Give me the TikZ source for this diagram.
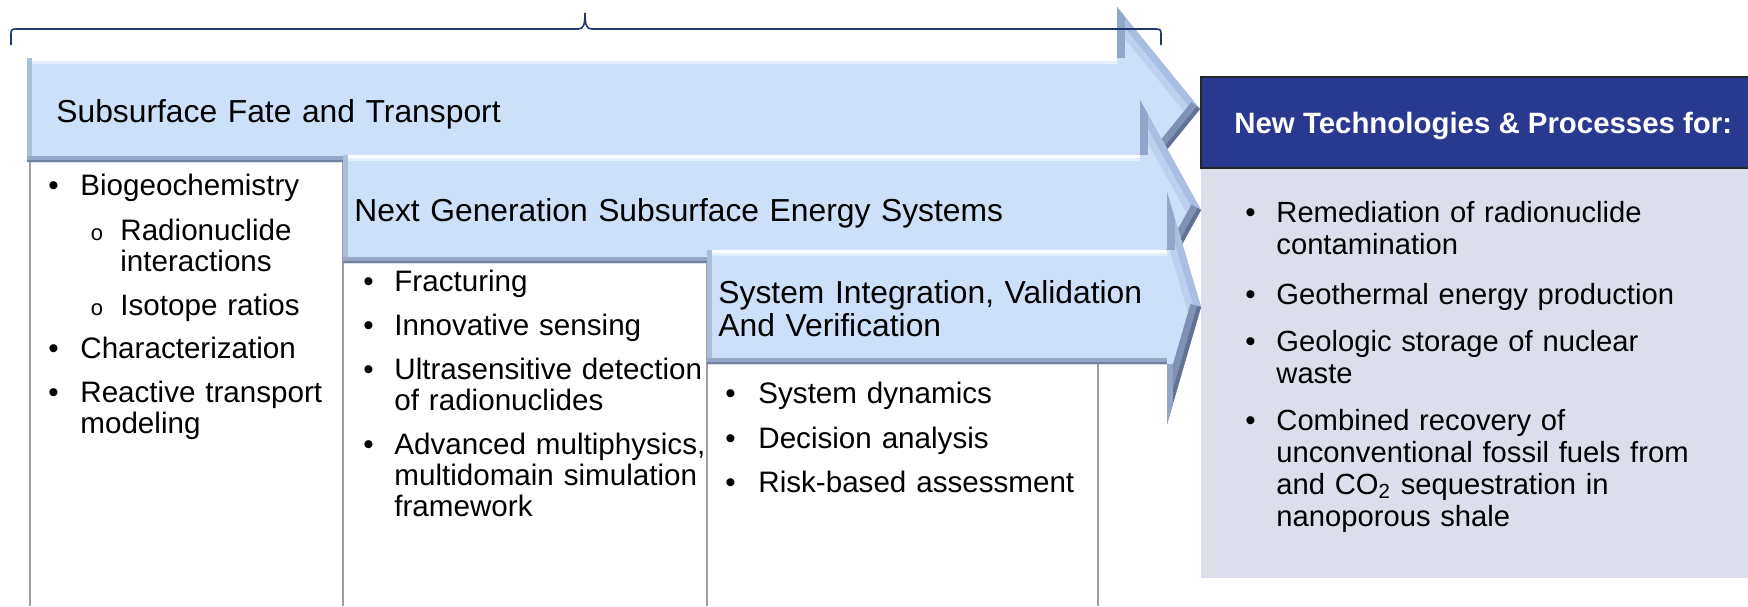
\documentclass[tikz,border=0pt]{standalone}
\usepackage{fontspec}
\setmainfont{Liberation Sans}
\newfontfamily\subbulletfont{Liberation Mono}

\definecolor{arrowfill}{RGB}{204,224,250}
\definecolor{bevtop}{RGB}{228,239,253}
\definecolor{bevleft}{RGB}{170,190,222}
\definecolor{bevbot}{RGB}{150,166,198}
\definecolor{bevbotedge}{RGB}{112,128,160}
\definecolor{bevstep}{RGB}{146,166,202}
\definecolor{bevhead}{RGB}{170,190,225}
\definecolor{bevheadin}{RGB}{190,208,238}
\definecolor{bevheadlow}{RGB}{128,145,180}
\definecolor{bevheadedge}{RGB}{98,114,150}
\definecolor{hdrblue}{RGB}{41,57,143}
\definecolor{bodybg}{RGB}{220,222,236}
\definecolor{colline}{RGB}{158,158,158}
\definecolor{bracecol}{RGB}{31,56,110}

% Bevelled block arrow:
% #1 left x, #2 head back x, #3 shaft top, #4 shaft bottom,
% #5 head top, #6 tip x, #7 tip y, #8 head bottom
\newcommand\bevelarrow[8]{%
  \begin{scope}
    \path[clip] (#1,#3) -- (#2,#3) -- (#2,#5) -- (#6,#7) -- (#2,#8)
      -- (#2,#4) -- (#1,#4) -- cycle;
    \fill[arrowfill] (#1,#5) rectangle (#6,#8);
    \draw[bevtop, line width=6pt] (#1,#3) -- (#2,#3);
    \draw[white, line width=2.5pt] (#1,#3) -- (#2,#3);
    \draw[bevleft, line width=5pt] (#1,#3) -- (#1,#4);
    \draw[bevbot, line width=6pt] (#1,#4) -- (#2,#4);
    \draw[bevbotedge, line width=2.5pt] (#1,#4) -- (#2,#4);
    \draw[bevheadin, line width=14pt] (#2,#5) -- (#6,#7);
    \draw[bevhead, line width=7pt] (#2,#5) -- (#6,#7);
    \draw[bevstep, line width=8pt] (#2,#3) -- (#2,#5);
    \draw[bevheadlow, line width=11pt] (#6,#7) -- (#2,#8);
    \draw[bevheadedge, line width=4pt] (#6,#7) -- (#2,#8);
    \draw[bevstep, line width=6pt] (#2,#8) -- (#2,#4);
  \end{scope}}

\tikzset{
  listtxt/.style={anchor=base west, inner sep=0pt, align=left, text width=#1,
    font=\fontsize{14.8pt}{15.5pt}\selectfont},
  listtxt/.default=200pt,
  bul/.style={anchor=base west, inner sep=0pt, font=\fontsize{14.8pt}{15.5pt}\selectfont},
  subbul/.style={anchor=base west, inner sep=0pt, font=\subbulletfont\fontsize{11pt}{12pt}\selectfont},
  arrowtitle/.style={anchor=base west, inner sep=0pt, align=left, text width=#1,
    font=\fontsize{15.9pt}{16.5pt}\selectfont},
  arrowtitle/.default=300pt,
  colline/.style={draw=colline, line width=1pt},
  bracepath/.style={draw=bracecol, line width=0.8pt},
}

\begin{document}
\begin{tikzpicture}[x=0.5pt,y=-0.5pt]
\useasboundingbox (0,0) rectangle (1748,606);

% outcome panel on the right
\fill[bodybg] (1201,168) rectangle (1748,578);
\fill[hdrblue] (1201,77) rectangle (1748,168);
\draw[black!85, line width=1pt] (1750,77) -- (1201,77) -- (1201,168) -- (1750,168);

% white columns under the arrows
\fill[white] (30,162) rectangle (343,606);
\fill[white] (343,263) rectangle (707,606);
\fill[white] (707,364) rectangle (1098,606);
\draw[colline] (30,162) -- (30,606);
\draw[colline] (343,162) -- (343,606);
\draw[colline] (707,263) -- (707,606);
\draw[colline] (1098,364) -- (1098,606);

% the three stacked arrows
\bevelarrow{27}{1117}{58}{162}{7}{1200}{109}{211}
\bevelarrow{343}{1140}{155}{263}{100}{1201}{210}{320}
\bevelarrow{707}{1167}{250}{364}{192}{1201}{307}{424}

% brace over the first arrow
\draw[bracepath] (11,45) -- (11,34) .. controls (11,30) and (12,29) .. (16,29)
  -- (578,29) .. controls (583,29) and (585,26) .. (585,13)
  .. controls (585,26) and (587,29) .. (592,29)
  -- (1156,29) .. controls (1160,29) and (1161,30) .. (1161,34) -- (1161,45);

% arrow titles
\node[arrowtitle] (t1) at (56,122) {Subsurface Fate and Transport};
\node[arrowtitle=400pt] (t2) at (354,221) {Next Generation Subsurface Energy Systems};
\node[arrowtitle=260pt] (t3) at (718,303)
  {System Integration, Validation\\And Verification};

% column 1
\node[bul] (b11) at (48,195) {•};
\node[listtxt] (c11) at (80,195) {Biogeochemistry};
\node[subbul] (s11) at (90,240) {o};
\node[listtxt] (c12) at (120,240) {Radionuclide\\interactions};
\node[subbul] (s12) at (90,315) {o};
\node[listtxt] (c13) at (120,315) {Isotope ratios};
\node[bul] (b12) at (48,358) {•};
\node[listtxt] (c14) at (80,358) {Characterization};
\node[bul] (b13) at (48,402) {•};
\node[listtxt] (c15) at (80,402) {Reactive transport\\modeling};

% column 2
\node[bul] (b21) at (363,291) {•};
\node[listtxt] (c21) at (394,291) {Fracturing};
\node[bul] (b22) at (363,335) {•};
\node[listtxt] (c22) at (394,335) {Innovative sensing};
\node[bul] (b23) at (363,379) {•};
\node[listtxt] (c23) at (394,379) {Ultrasensitive detection\\of radionuclides};
\node[bul] (b24) at (363,454) {•};
\node[listtxt] (c24) at (394,454) {Advanced multiphysics,\\multidomain simulation\\framework};

% column 3
\node[bul] (b31) at (725,403) {•};
\node[listtxt] (c31) at (758,403) {System dynamics};
\node[bul] (b32) at (725,448) {•};
\node[listtxt] (c32) at (758,448) {Decision analysis};
\node[bul] (b33) at (725,492) {•};
\node[listtxt] (c33) at (758,492) {Risk-based assessment};

% outcome panel text
\node[anchor=base west, inner sep=0pt, text=white,
  font=\bfseries\fontsize{14.7pt}{16pt}\selectfont] (hdr) at (1234,133)
  {New Technologies \& Processes for:};
\tikzset{rlist/.style={listtxt=240pt, font=\fontsize{14.6pt}{16pt}\selectfont}}
\node[bul] (b41) at (1245,222) {•};
\node[rlist] (r1) at (1276,222) {Remediation of radionuclide\\contamination};
\node[bul] (b42) at (1245,304) {•};
\node[rlist] (r2) at (1276,304) {Geothermal energy production};
\node[bul] (b43) at (1245,351) {•};
\node[rlist] (r3) at (1276,351) {Geologic storage of nuclear\\waste};
\node[bul] (b44) at (1245,430) {•};
\node[rlist] (r4) at (1276,430) {Combined recovery of\\unconventional fossil fuels from\\and CO\textsubscript{2} sequestration in\\nanoporous shale};
\end{tikzpicture}
\end{document}
